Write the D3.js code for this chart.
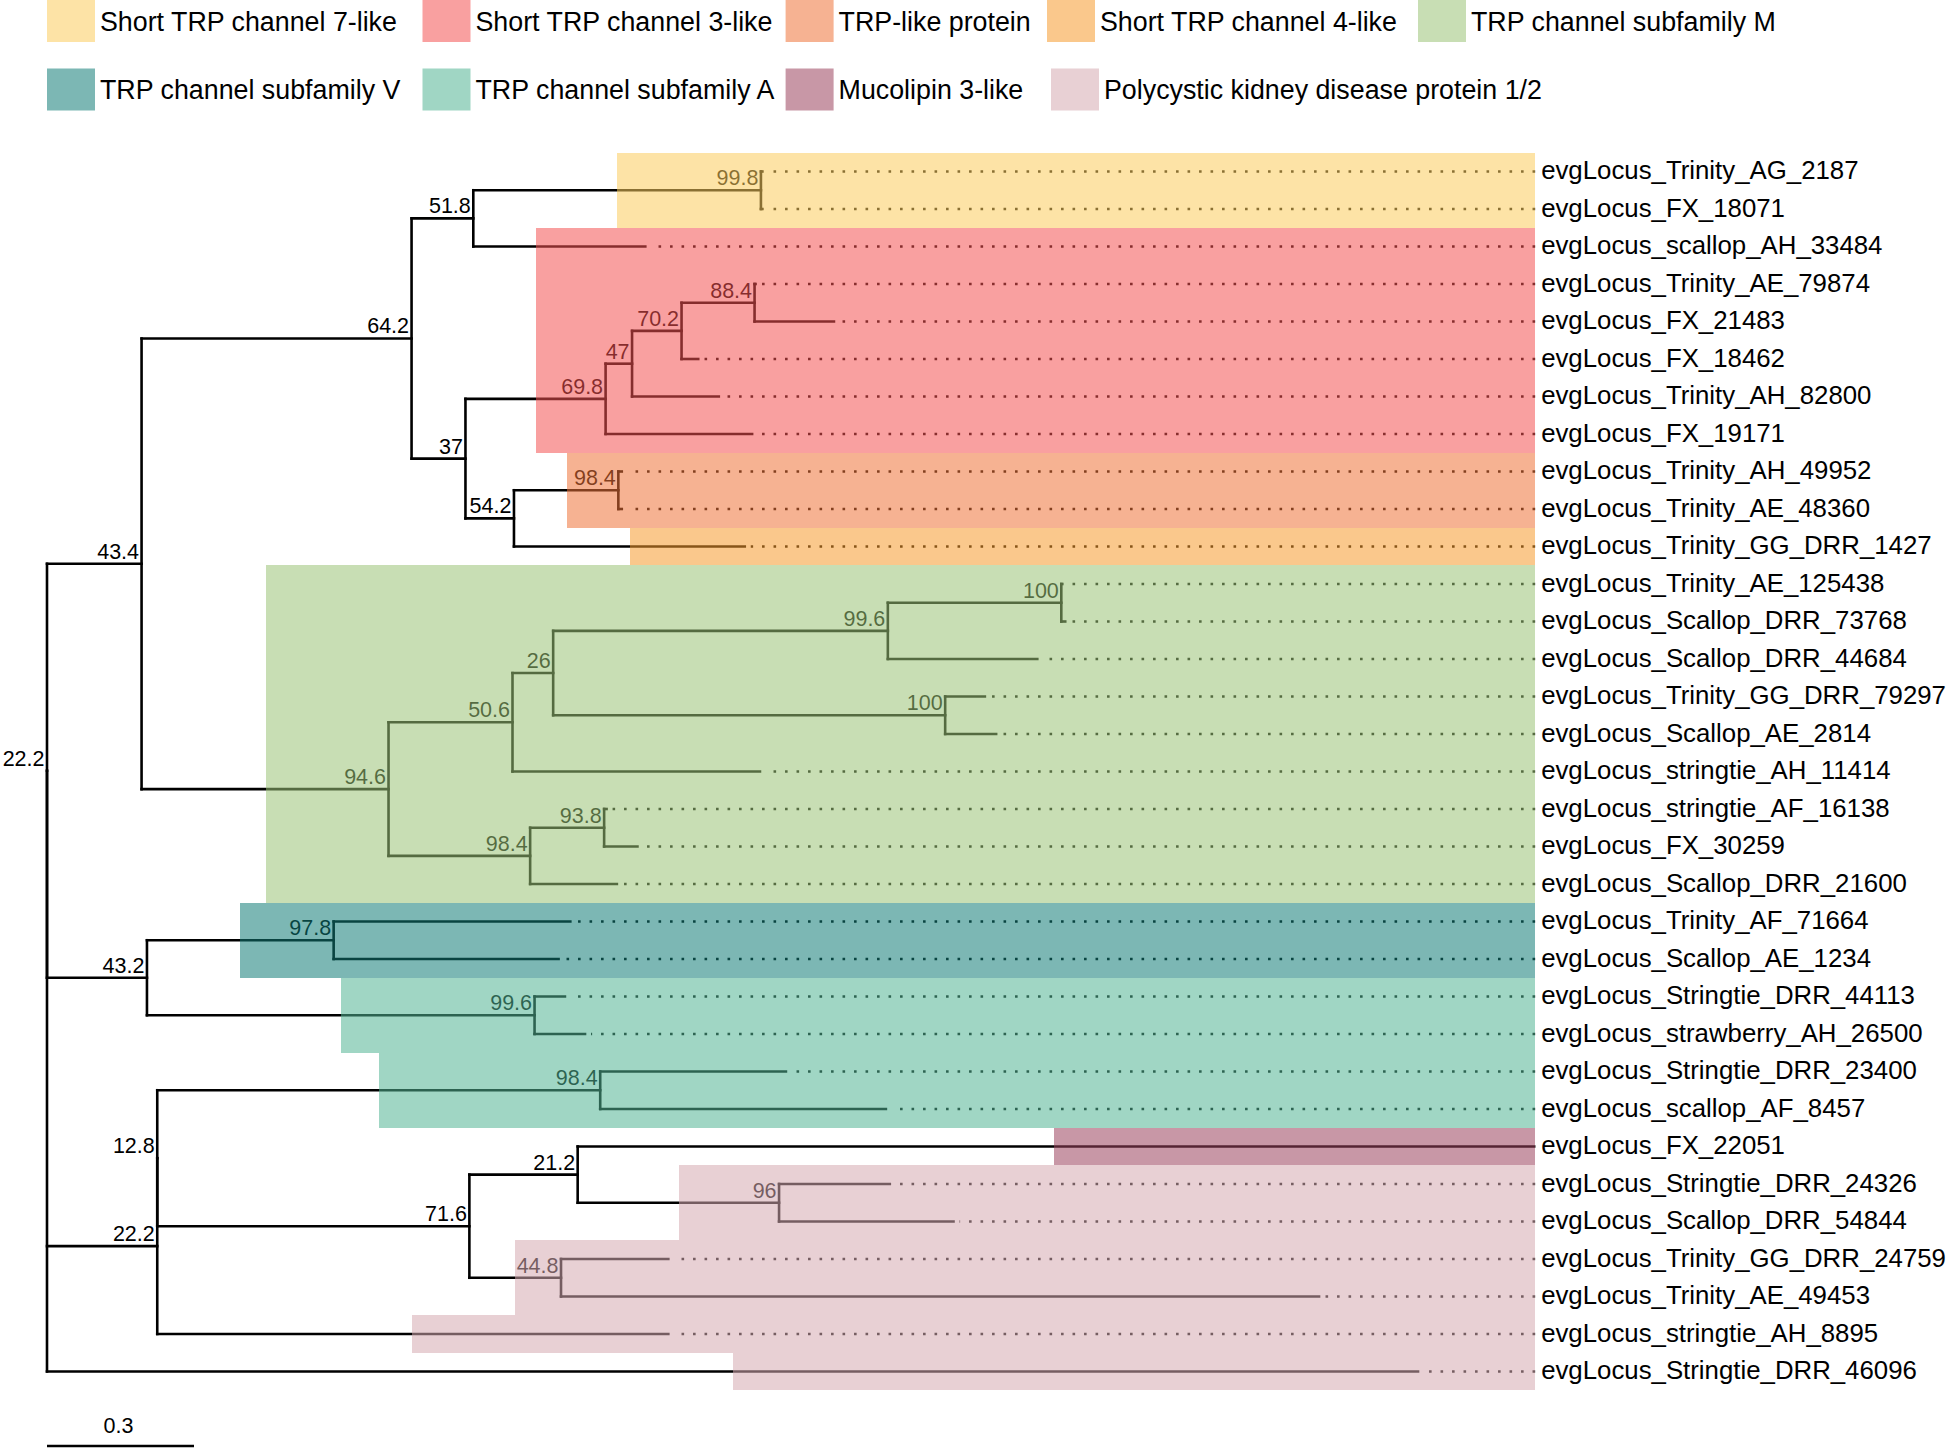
<!DOCTYPE html>
<html><head><meta charset="utf-8">
<script src="https://cdn.jsdelivr.net/npm/d3@7"></script>
<style>
body{margin:0;background:#fff}
svg{display:block}
text{font-family:"Liberation Sans",Arial,Helvetica,sans-serif}
</style>
</head><body>
<svg id="chart" width="1946" height="1448"></svg>
<script>
// ---------- DATA ----------
const groupNames = ["Short TRP channel 7-like","Short TRP channel 3-like","TRP-like protein","Short TRP channel 4-like","TRP channel subfamily M","TRP channel subfamily V","TRP channel subfamily A","Mucolipin 3-like","Polycystic kidney disease protein 1/2"];
// colours as they appear over white
const groupColors = ["#FDE3A6","#F9A0A0","#F6B292","#FAC88C","#C8DEB4","#7CB7B4","#A0D6C4","#C897A6","#E8D0D4"];

const leafNames = [
 "evgLocus_Trinity_AG_2187","evgLocus_FX_18071","evgLocus_scallop_AH_33484","evgLocus_Trinity_AE_79874",
 "evgLocus_FX_21483","evgLocus_FX_18462","evgLocus_Trinity_AH_82800","evgLocus_FX_19171",
 "evgLocus_Trinity_AH_49952","evgLocus_Trinity_AE_48360","evgLocus_Trinity_GG_DRR_1427","evgLocus_Trinity_AE_125438",
 "evgLocus_Scallop_DRR_73768","evgLocus_Scallop_DRR_44684","evgLocus_Trinity_GG_DRR_79297","evgLocus_Scallop_AE_2814",
 "evgLocus_stringtie_AH_11414","evgLocus_stringtie_AF_16138","evgLocus_FX_30259","evgLocus_Scallop_DRR_21600",
 "evgLocus_Trinity_AF_71664","evgLocus_Scallop_AE_1234","evgLocus_Stringtie_DRR_44113","evgLocus_strawberry_AH_26500",
 "evgLocus_Stringtie_DRR_23400","evgLocus_scallop_AF_8457","evgLocus_FX_22051","evgLocus_Stringtie_DRR_24326",
 "evgLocus_Scallop_DRR_54844","evgLocus_Trinity_GG_DRR_24759","evgLocus_Trinity_AE_49453","evgLocus_stringtie_AH_8895",
 "evgLocus_Stringtie_DRR_46096"];

// [node id, parent id, branch length, bootstrap support]
const treeRows = [
 ["root", "", 0, null],
 ["n22a", "root", 0, "22.2"],
 ["n434", "n22a", 0.193, "43.4"],
 ["n642", "n434", 0.551, "64.2"],
 ["n518", "n642", 0.126, "51.8"],
 ["n998", "n518", 0.587, "99.8"],
 ["evgLocus_Trinity_AG_2187", "n998", 0.003, null],
 ["evgLocus_FX_18071", "n998", 0.003, null],
 ["evgLocus_scallop_AH_33484", "n518", 0.351, null],
 ["n37", "n642", 0.110, "37"],
 ["n698", "n37", 0.286, "69.8"],
 ["n47", "n698", 0.054, "47"],
 ["n702", "n47", 0.101, "70.2"],
 ["n884", "n702", 0.149, "88.4"],
 ["evgLocus_Trinity_AE_79874", "n884", 0.002, null],
 ["evgLocus_FX_21483", "n884", 0.162, null],
 ["evgLocus_FX_18462", "n702", 0.034, null],
 ["evgLocus_Trinity_AH_82800", "n47", 0.177, null],
 ["evgLocus_FX_19171", "n698", 0.299, null],
 ["n542", "n37", 0.099, "54.2"],
 ["n984a", "n542", 0.213, "98.4"],
 ["evgLocus_Trinity_AH_49952", "n984a", 0.007, null],
 ["evgLocus_Trinity_AE_48360", "n984a", 0.007, null],
 ["evgLocus_Trinity_GG_DRR_1427", "n542", 0.471, null],
 ["n946", "n434", 0.504, "94.6"],
 ["n506", "n946", 0.253, "50.6"],
 ["n26", "n506", 0.083, "26"],
 ["n996a", "n26", 0.683, "99.6"],
 ["n100a", "n996a", 0.354, "100"],
 ["evgLocus_Trinity_AE_125438", "n100a", 0.002, null],
 ["evgLocus_Scallop_DRR_73768", "n100a", 0.008, null],
 ["evgLocus_Scallop_DRR_44684", "n996a", 0.305, null],
 ["n100b", "n26", 0.800, "100"],
 ["evgLocus_Trinity_GG_DRR_79297", "n100b", 0.081, null],
 ["evgLocus_Scallop_AE_2814", "n100b", 0.104, null],
 ["evgLocus_stringtie_AH_11414", "n506", 0.505, null],
 ["n984b", "n946", 0.289, "98.4"],
 ["n938", "n984b", 0.151, "93.8"],
 ["evgLocus_stringtie_AF_16138", "n938", 0.005, null],
 ["evgLocus_FX_30259", "n938", 0.068, null],
 ["evgLocus_Scallop_DRR_21600", "n984b", 0.177, null],
 ["n432", "n22a", 0.204, "43.2"],
 ["n978", "n432", 0.381, "97.8"],
 ["evgLocus_Trinity_AF_71664", "n978", 0.483, null],
 ["evgLocus_Scallop_AE_1234", "n978", 0.459, null],
 ["n996b", "n432", 0.791, "99.6"],
 ["evgLocus_Stringtie_DRR_44113", "n996b", 0.062, null],
 ["evgLocus_strawberry_AH_26500", "n996b", 0.103, null],
 ["n222b", "root", 0.225, "22.2"],
 ["n128", "n222b", 0, "12.8"],
 ["n984c", "n128", 0.904, "98.4"],
 ["evgLocus_Stringtie_DRR_23400", "n984c", 0.379, null],
 ["evgLocus_scallop_AF_8457", "n984c", 0.583, null],
 ["n716", "n128", 0.637, "71.6"],
 ["n212", "n716", 0.221, "21.2"],
 ["evgLocus_FX_22051", "n212", 1.952, null],
 ["n96", "n212", 0.411, "96"],
 ["evgLocus_Stringtie_DRR_24326", "n96", 0.226, null],
 ["evgLocus_Scallop_DRR_54844", "n96", 0.356, null],
 ["n448", "n716", 0.187, "44.8"],
 ["evgLocus_Trinity_GG_DRR_24759", "n448", 0.219, null],
 ["evgLocus_Trinity_AE_49453", "n448", 1.547, null],
 ["evgLocus_stringtie_AH_8895", "n222b", 1.043, null],
 ["evgLocus_Stringtie_DRR_46096", "root", 2.798, null]
];

// clade highlights: [group index, first leaf, last leaf, start (tree distance from root)]
const highlights = [
 [0, "evgLocus_Trinity_AG_2187", "evgLocus_FX_18071", 1.164],
 [1, "evgLocus_scallop_AH_33484", "evgLocus_FX_19171", 0.997],
 [2, "evgLocus_Trinity_AH_49952", "evgLocus_Trinity_AE_48360", 1.061],
 [3, "evgLocus_Trinity_GG_DRR_1427", "evgLocus_Trinity_GG_DRR_1427", 1.190],
 [4, "evgLocus_Trinity_AE_125438", "evgLocus_Scallop_DRR_21600", 0.446],
 [5, "evgLocus_Trinity_AF_71664", "evgLocus_Scallop_AE_1234", 0.393],
 [6, "evgLocus_Stringtie_DRR_44113", "evgLocus_strawberry_AH_26500", 0.600],
 [6, "evgLocus_Stringtie_DRR_23400", "evgLocus_scallop_AF_8457", 0.677],
 [7, "evgLocus_FX_22051", "evgLocus_FX_22051", 2.056],
 [8, "evgLocus_Stringtie_DRR_24326", "evgLocus_Scallop_DRR_54844", 1.289],
 [8, "evgLocus_Trinity_GG_DRR_24759", "evgLocus_Trinity_AE_49453", 0.956],
 [8, "evgLocus_stringtie_AH_8895", "evgLocus_stringtie_AH_8895", 0.745],
 [8, "evgLocus_Stringtie_DRR_46096", "evgLocus_Stringtie_DRR_46096", 1.400]
];
const alignDepth = 3.037;   // tip-label alignment (tree units)
const scaleBarValue = 0.3;

// ---------- LAYOUT ----------
const svg = d3.select("#chart");
const x = d3.scaleLinear().domain([0, 3]).range([47, 47 + 1470]);
const y = d3.scalePoint().domain(leafNames).range([171.5, 1371.5]);
const step = y.step();
const overlayAlpha = 0.55;

const root = d3.stratify().id(d => d[0]).parentId(d => d[1] || null)(treeRows);
root.each(n => { n.dist = n.parent ? n.parent.dist + n.data[2] : 0; });
root.eachAfter(n => {
  n.yy = n.children ? (n.children[0].yy + n.children[n.children.length - 1].yy) / 2 : y(n.id);
});

const gTree = svg.append("g");
const nodes = root.descendants();
const leaves = root.leaves();
const rightX = x(alignDepth);

// dotted guides
gTree.selectAll("path.dot").data(leaves.filter(l => x(l.dist) < rightX - 12)).join("path")
  .attr("d", l => `M${rightX},${l.yy}H${x(l.dist) + 6}`)
  .attr("stroke", "#000").attr("stroke-width", 2.6).attr("stroke-dasharray", "2.6,8.9")
  .attr("fill", "none");

// horizontal branches
gTree.selectAll("path.h").data(nodes.filter(n => n.parent)).join("path")
  .attr("d", n => `M${x(n.parent.dist)},${n.yy}H${x(n.dist)}`)
  .attr("stroke", "#000").attr("stroke-width", 2.6).attr("stroke-linecap", "square").attr("fill", "none");
// vertical connectors
gTree.selectAll("path.v").data(nodes.filter(n => n.children)).join("path")
  .attr("d", n => `M${x(n.dist)},${n.children[0].yy}V${n.children[n.children.length - 1].yy}`)
  .attr("stroke", "#000").attr("stroke-width", 2.6).attr("stroke-linecap", "square").attr("fill", "none");

// bootstrap values
gTree.selectAll("text.bs").data(nodes.filter(n => n.children && n.data[3])).join("text")
  .attr("x", n => x(n.dist) - 2.5).attr("y", n => n.yy - 5)
  .attr("text-anchor", "end").attr("font-size", 21.5).attr("fill", "#000")
  .text(n => n.data[3]);

// highlights (semi-transparent overlay)
function overlayFill(c) {
  const rgb = d3.rgb(c);
  const f = v => Math.max(0, Math.min(255, (v - 255 * (1 - overlayAlpha)) / overlayAlpha));
  return d3.rgb(f(rgb.r), f(rgb.g), f(rgb.b)).formatHex();
}
svg.append("g").selectAll("rect").data(highlights).join("rect")
  .attr("x", d => x(d[3]))
  .attr("y", d => y(d[1]) - step / 2)
  .attr("width", d => rightX - x(d[3]))
  .attr("height", d => y(d[2]) - y(d[1]) + step)
  .attr("fill", d => overlayFill(groupColors[d[0]]))
  .attr("fill-opacity", overlayAlpha)
  .attr("shape-rendering", "crispEdges");

// tip labels
svg.append("g").selectAll("text").data(leaves).join("text")
  .attr("x", rightX + 6).attr("y", l => l.yy + 7.5)
  .attr("font-size", 25.8).attr("fill", "#000")
  .text(l => l.id);

// scale bar
const sb = svg.append("g");
sb.append("line").attr("x1", x(0)).attr("x2", x(scaleBarValue)).attr("y1", 1446).attr("y2", 1446)
  .attr("stroke", "#000").attr("stroke-width", 2.6);
sb.append("text").attr("x", (x(0) + x(scaleBarValue)) / 2 - 2).attr("y", 1433)
  .attr("text-anchor", "middle").attr("font-size", 21.5).text(scaleBarValue);

// legend
const legendCols = [[47, 422.5, 785.6, 1047, 1418], [47, 422.5, 785.6, 1051]];
const legendRows = [[0, 1, 2, 3, 4], [5, 6, 7, 8]];
const legendTop = [0, 68.5];
const lg = svg.append("g");
legendRows.forEach((row, r) => {
  row.forEach((gi, c) => {
    const gx = legendCols[r][c];
    lg.append("rect").attr("x", gx).attr("y", legendTop[r]).attr("width", 48).attr("height", 42)
      .attr("fill", groupColors[gi]);
    lg.append("text").attr("x", gx + 53).attr("y", legendTop[r] + 30.5)
      .attr("font-size", 26.8).attr("fill", "#000").text(groupNames[gi]);
  });
});
</script>
</body></html>
